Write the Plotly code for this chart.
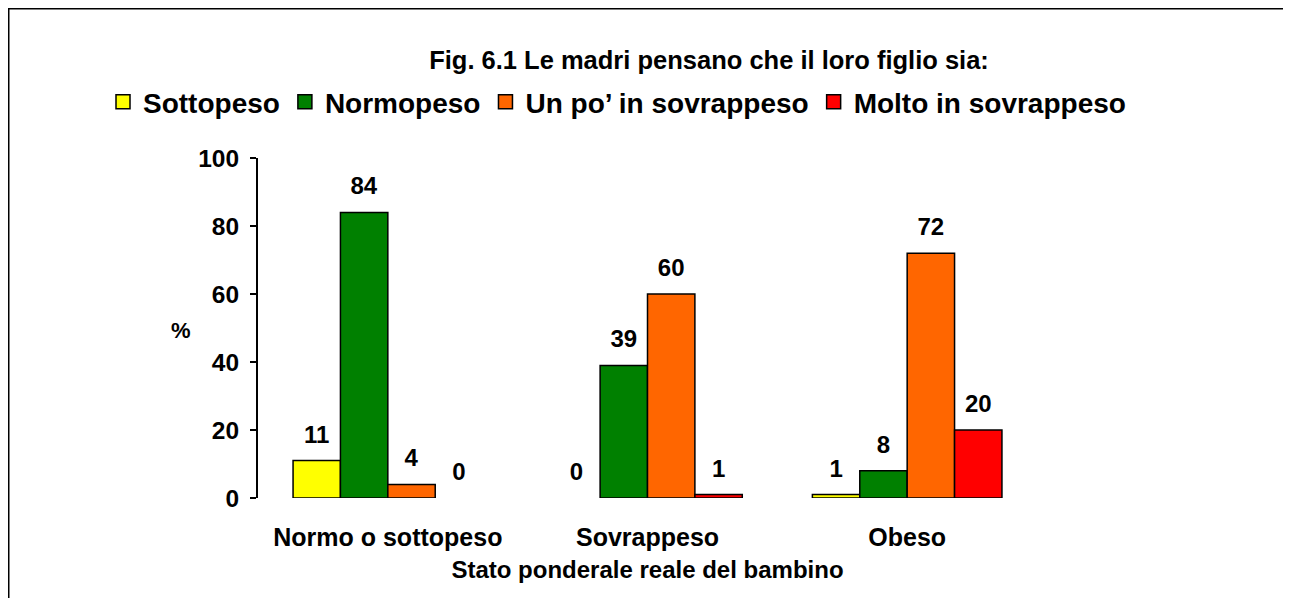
import plotly.graph_objects as go

categories = ["Normo o sottopeso", "Sovrappeso", "Obeso"]
series_names = ["Sottopeso", "Normopeso", "Un po’ in sovrappeso", "Molto in sovrappeso"]
sottopeso = [11, 0, 1]
normopeso = [84, 39, 8]
un_po_sovrappeso = [4, 60, 72]
molto_sovrappeso = [0, 1, 20]
y_ticks = [0, 20, 40, 60, 80, 100]

colors = ["#FFFF00", "#008000", "#FF6600", "#FF0000"]
series_values = [sottopeso, normopeso, un_po_sovrappeso, molto_sovrappeso]

FONT = "Liberation Sans, Arial, sans-serif"
LABEL_SIZE = 24

fig = go.Figure()
for name, vals, col in zip(series_names, series_values, colors):
    fig.add_trace(go.Bar(
        x=categories, y=vals, name=name, showlegend=False,
        marker=dict(color=col, line=dict(color="black",
                                         width=[1.5 if v > 0 else 0 for v in vals])),
        text=[f"<span style='font-size:{LABEL_SIZE}px'>{v}</span><br> " for v in vals],
        textposition="outside",
        constraintext="none",
        cliponaxis=False,
        textfont=dict(family=FONT, size=10, color="black", weight="bold"),
    ))

# legend entries: square swatches with black outline
for name, col in zip(series_names, colors):
    fig.add_trace(go.Scatter(
        x=[None], y=[None], name=name, mode="markers",
        marker=dict(symbol="square", size=14, color=col,
                    line=dict(color="black", width=1.5)),
        hoverinfo="skip",
    ))

W, H = 1291, 598
L, R, T, B = 250, 262, 150, 108
pw, ph = W - L - R, H - T - B

def px_x(p):
    return (p - L) / pw

def px_y(p):
    return (H - B - p) / ph

fig.update_layout(
    width=W, height=H,
    margin=dict(l=L, r=R, t=T, b=B, autoexpand=False),
    paper_bgcolor="white", plot_bgcolor="white",
    barmode="group", bargap=0.27, bargroupgap=0,
    font=dict(family=FONT, color="black"),
    title=dict(
        text="Fig. 6.1 Le madri pensano che il loro figlio sia:",
        font=dict(family=FONT, size=25.5, color="black", weight="bold"),
        xref="container", x=701 / W, xanchor="center",
        yref="container", y=1 - 52 / H, yanchor="middle",
    ),
    legend=dict(
        orientation="h",
        xref="paper", x=px_x(95), xanchor="left",
        yref="paper", y=px_y(94), yanchor="middle",
        font=dict(family=FONT, size=28, color="black", weight="bold"),
        itemwidth=30, traceorder="normal",
        bgcolor="rgba(0,0,0,0)",
    ),
    showlegend=True,
    xaxis=dict(
        categoryorder="array", categoryarray=categories,
        showline=False, showgrid=False, zeroline=False, ticks="",
        tickfont=dict(family=FONT, size=25, color="black", weight="bold"),
        ticklabelstandoff=22,
        title=dict(text="Stato ponderale reale del bambino",
                   font=dict(family=FONT, size=24, color="black", weight="bold"),
                   standoff=11),
    ),
    yaxis=dict(
        range=[0, 100], tickvals=y_ticks,
        showline=True, linecolor="black", linewidth=2,
        showgrid=False, zeroline=False,
        ticks="outside", ticklen=6, tickwidth=2, tickcolor="black",
        tickfont=dict(family=FONT, size=24.5, color="black", weight="bold"),
        ticklabelstandoff=6,
    ),
    annotations=[dict(
        text="%", xref="paper", yref="paper",
        x=px_x(161), y=px_y(322), showarrow=False,
        font=dict(family=FONT, size=22, color="black", weight="bold"),
    )],
    shapes=[dict(
        type="rect", xref="paper", yref="paper",
        x0=px_x(0.75), x1=px_x(1277), y0=px_y(620), y1=px_y(0.75),
        line=dict(color="black", width=1.5), fillcolor="rgba(0,0,0,0)",
        layer="below",
    )],
)

fig.write_html("out.html")
